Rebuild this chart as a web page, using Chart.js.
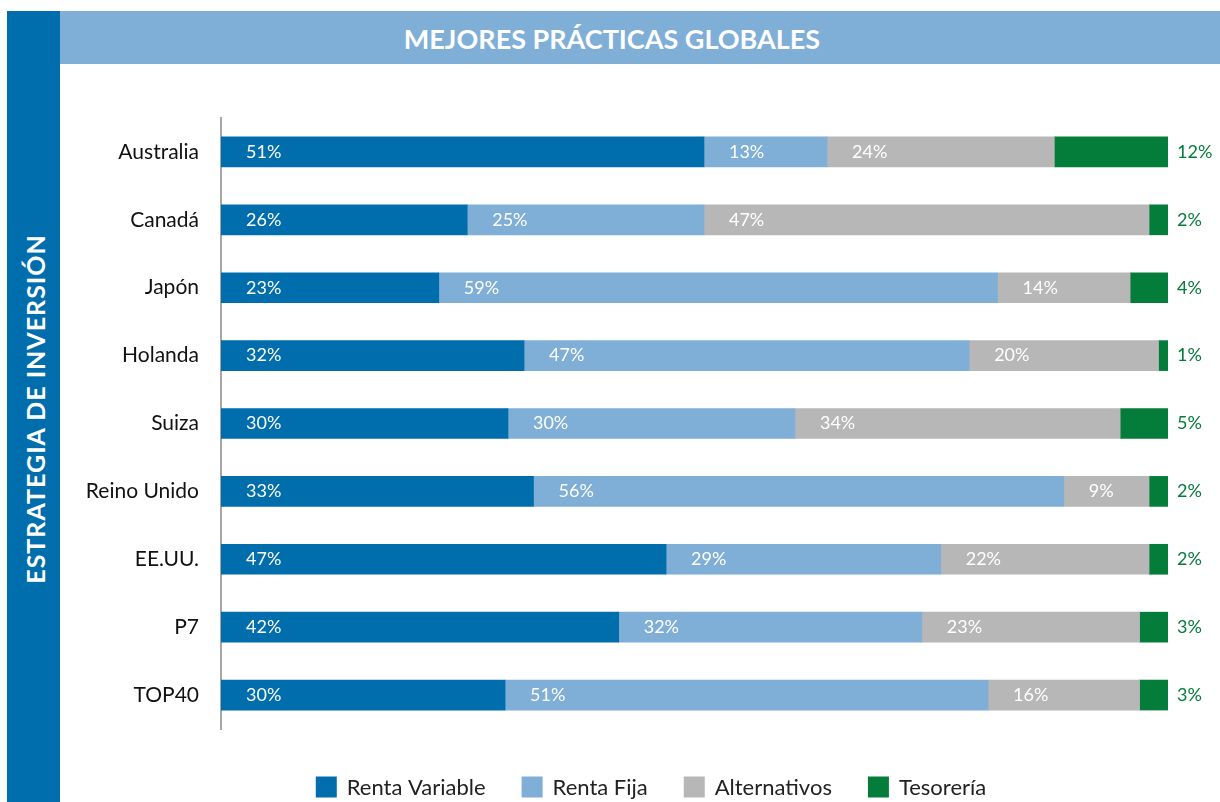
<!DOCTYPE html>
<html>
<head>
<meta charset="utf-8">
<script src="https://cdn.jsdelivr.net/npm/chart.js@4/dist/chart.umd.min.js"></script>
<style>
  html, body { margin: 0; padding: 0; width: 1220px; height: 802px; overflow: hidden; background: #fff; font-family: Lato, sans-serif; }
  #side { position: absolute; left: 7px; top: 11px; width: 53px; height: 791px; background: #006dad; }
  #side span { position: absolute; left: 28px; top: 398px; transform: translate(-50%, -50%) rotate(-90deg); white-space: nowrap;
    color: #fff; font-weight: bold; font-size: 25px; letter-spacing: 1px; }
  #header { position: absolute; left: 60px; top: 11px; width: 1160px; height: 53px; background: #7faed7; }
  #header span { position: absolute; left: 552px; top: 27px; transform: translate(-50%, -50%); white-space: nowrap;
    color: #fff; font-weight: bold; font-size: 27px; }
  #wrap { position: absolute; left: 0; top: 0; width: 1220px; height: 802px; }
</style>
</head>
<body>
<div id="wrap"><canvas id="estrategiaChart"></canvas></div>
<div id="side"><span>ESTRATEGIA DE INVERSIÓN</span></div>
<div id="header"><span>MEJORES PRÁCTICAS GLOBALES</span></div>
<script>
// porcentajes por país
const paises = ['Australia', 'Canadá', 'Japón', 'Holanda', 'Suiza', 'Reino Unido', 'EE.UU.', 'P7', 'TOP40'];
const rentaVariable = [51, 26, 23, 32, 30, 33, 47, 42, 30];
const rentaFija     = [13, 25, 59, 47, 30, 56, 29, 32, 51];
const alternativos  = [24, 47, 14, 20, 34,  9, 22, 23, 16];
const tesoreria     = [12,  2,  4,  1,  5,  2,  2,  3,  3];

const series = [
  { label: 'Renta Variable', values: rentaVariable, color: '#006dad' },
  { label: 'Renta Fija', values: rentaFija, color: '#7faed7' },
  { label: 'Alternativos', values: alternativos, color: '#b8b7b7' },
  { label: 'Tesorería', values: tesoreria, color: '#047c3a' }
];

// cada fila se escala a 100% (Suiza suma 99)
const totales = paises.map((p, i) => series.reduce((s, d) => s + d.values[i], 0));

const etiquetas = {
  id: 'etiquetas',
  afterDatasetsDraw(chart) {
    const ctx = chart.ctx;
    ctx.save();
    ctx.font = '18px Lato';
    ctx.textBaseline = 'middle';
    ctx.textAlign = 'left';
    chart.data.datasets.forEach((ds, di) => {
      const meta = chart.getDatasetMeta(di);
      meta.data.forEach((bar, i) => {
        const txt = series[di].values[i] + '%';
        if (di === 3) {
          ctx.fillStyle = '#047c3a';
          ctx.fillText(txt, chart.chartArea.right + 9, bar.y);
        } else {
          ctx.fillStyle = '#ffffff';
          ctx.fillText(txt, bar.base + 25, bar.y);
        }
      });
    });
    ctx.restore();
  }
};

// leyenda propia, debajo del gráfico
const leyenda = {
  id: 'leyenda',
  afterDraw(chart) {
    const ctx = chart.ctx;
    const box = 21, gap = 10, sep = 36, centro = 651, y = 787;
    ctx.save();
    ctx.font = '22px Lato';
    ctx.textBaseline = 'middle';
    ctx.textAlign = 'left';
    const anchos = chart.data.datasets.map(ds => box + gap + ctx.measureText(ds.label).width);
    const total = anchos.reduce((a, b) => a + b, 0) + sep * (anchos.length - 1);
    let x = centro - total / 2;
    chart.data.datasets.forEach((ds, i) => {
      ctx.fillStyle = ds.backgroundColor;
      ctx.fillRect(x, y - box / 2, box, box);
      ctx.fillStyle = '#222';
      ctx.fillText(ds.label, x + box + gap, y + 1);
      x += anchos[i] + sep;
    });
    ctx.restore();
  }
};

const ctx = document.getElementById('estrategiaChart').getContext('2d');

new Chart(ctx, {
  type: 'bar',
  data: {
    labels: paises,
    datasets: series.map(s => ({
      label: s.label,
      data: s.values.map((v, i) => v * 100 / totales[i]),
      backgroundColor: s.color,
      borderWidth: 0,
      barThickness: 30
    }))
  },
  options: {
    indexAxis: 'y',
    responsive: true,
    maintainAspectRatio: false,
    animation: false,
    layout: { padding: { left: 60, right: 52, top: 118, bottom: 73 } },
    plugins: {
      legend: { display: false },
      tooltip: { enabled: false }
    },
    scales: {
      x: {
        display: false,
        stacked: true,
        min: 0,
        max: 100
      },
      y: {
        stacked: true,
        grid: { display: false, drawTicks: false },
        border: { display: true, color: '#a6a6a6', width: 2 },
        ticks: { color: '#111', padding: 22, font: { family: 'Lato', size: 21 } },
        afterFit: (scale) => { scale.width = 161; }
      }
    }
  },
  plugins: [etiquetas, leyenda]
});
</script>
</body>
</html>
